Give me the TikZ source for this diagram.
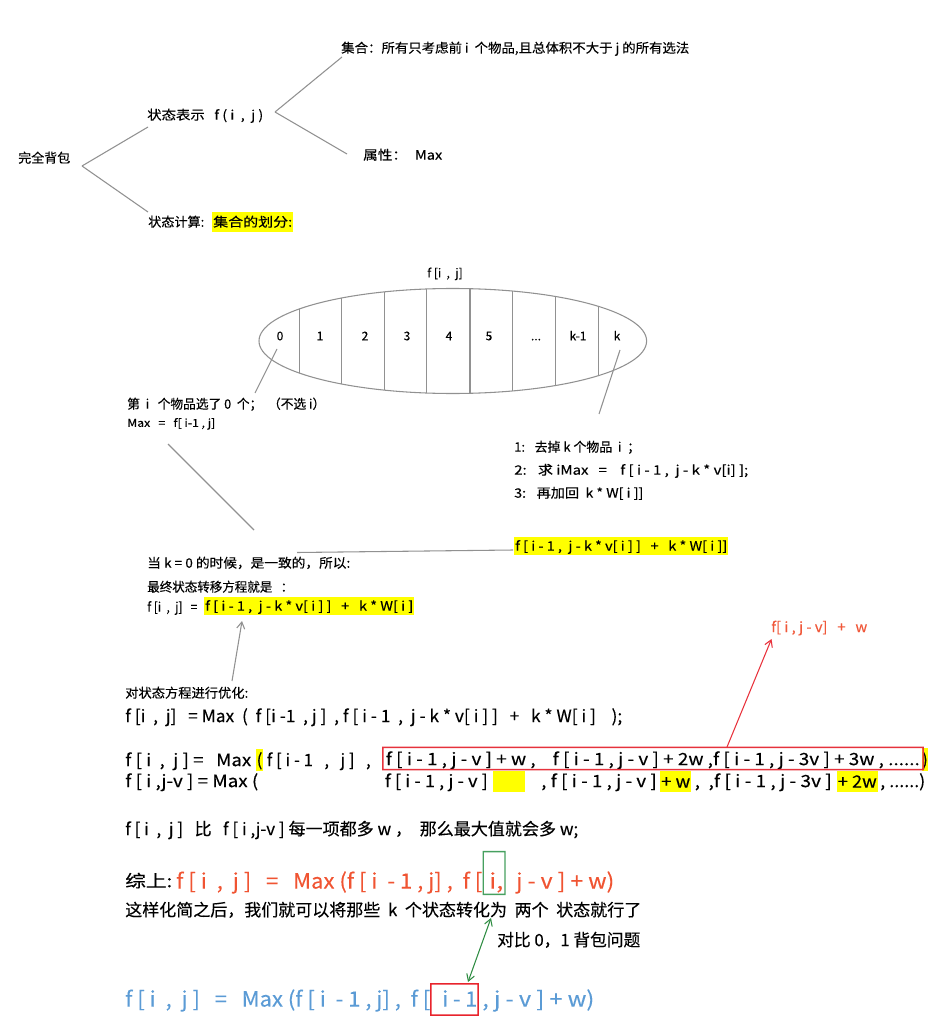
\documentclass[tikz,border=0pt]{standalone}
\usepackage{fontspec}
\setmainfont{Noto Sans CJK SC}[FakeBold=0.25]
\usepackage{graphicx}
\usetikzlibrary{shapes.geometric,arrows.meta}
\newlength\px
\setlength\px{0.75pt}
\newcommand\fw[2]{\resizebox{#1\px}{\height}{#2}}
\definecolor{hlyellow}{RGB}{255,255,0}
\definecolor{linegray}{RGB}{145,145,145}
\definecolor{topred}{RGB}{240,88,58}
\definecolor{arrred}{RGB}{232,50,60}
\definecolor{boxred}{RGB}{230,50,60}
\definecolor{sumred}{RGB}{240,84,50}
\definecolor{boxgreen}{RGB}{70,160,95}
\definecolor{arrgreen}{RGB}{46,140,66}
\definecolor{blueform}{RGB}{91,155,213}
\definecolor{boxredb}{RGB}{232,36,44}
\begin{document}
\begin{tikzpicture}[x=0.75pt,y=-0.75pt,
  lbl/.style={inner sep=0pt, anchor=west},
  f11/.style={font=\fontsize{8.25}{10}\selectfont, text height=7.1pt, text depth=1.16pt},
  f12/.style={font=\fontsize{9}{11}\selectfont, text height=7.74pt, text depth=1.26pt},
  f13/.style={font=\fontsize{9.75}{12}\selectfont, text height=8.4pt, text depth=1.37pt},
  f14/.style={font=\fontsize{10.5}{12}\selectfont, text height=9.03pt, text depth=1.47pt},
  f17/.style={font=\fontsize{12.75}{15}\selectfont, text height=10.97pt, text depth=1.79pt},
  f21/.style={font=\fontsize{15.75}{18}\selectfont, text height=13.5pt, text depth=2.2pt},
  conn/.style={draw=linegray, line width=0.8pt},
  arrowend/.style={-{Straight Barb[length=5pt,width=6pt]}},
  cell/.style={f12, inner sep=0pt},
  frame/.style={inner sep=0pt}
]
\useasboundingbox (0,0) rectangle (943,1030);

% ---------------- tree ----------------
\node[lbl,f13] (root) at (18,158) {\fw{52}{完全背包}};
\node[lbl,f13] (repr) at (147,115) {\fw{116}{状态表示~~ f ( i~ ,~ j )}};
\node[lbl,f13] (setdef) at (341,48) {\fw{348}{集合：所有只考虑前 i~ 个物品,且总体积不大于 j 的所有选法}};
\node[lbl,f13] (attr) at (363,155) {\fw{79}{属性：\hspace{7\px}Max}};
\node[lbl,f13] (calc) at (148,222) {\fw{56}{状态计算:}};
\node[lbl,f13,fill=hlyellow,inner xsep=1\px,minimum height=20.5\px] (part) at (212,222) {\fw{79}{集合的划分:}};

\coordinate (r0) at (82,166);
\coordinate (r1) at (148,127);
\coordinate (r2) at (148,212);
\coordinate (s0) at (275,112);
\coordinate (s1) at (342,57);
\coordinate (s2) at (347,154);
\draw[conn] (r0) -- (r1);
\draw[conn] (r0) -- (r2);
\draw[conn] (s0) -- (s1);
\draw[conn] (s0) -- (s2);

% ---------------- set ellipse ----------------
\node[cell] (fij) at (445,273) {f [i~ ,~ j]};
\node[draw=linegray, line width=0.8pt, ellipse, minimum width=387.6\px, minimum height=105\px, inner sep=0pt] (set) at (452.8,341) {};
\begin{scope}
\clip (452.8,341) ellipse [x radius=193.8, y radius=52.5];
\foreach \xx in {299.3,341.7,384.3,426.7,470,512.7,555.7,598.3}
  \draw[conn] (\xx,280) -- (\xx,400);
\end{scope}
\node[cell] (c0) at (280,336) {0};
\node[cell] (c1) at (320,336) {1};
\node[cell] (c2) at (365,336) {2};
\node[cell] (c3) at (407,336) {3};
\node[cell] (c4) at (449,336) {4};
\node[cell] (c5) at (489,336) {5};
\node[cell] (cd) at (536,336) {...};
\node[cell] (ck1) at (578,336) {k-1};
\node[cell] (ck) at (617,336) {k};

\coordinate (a0) at (277,349);
\coordinate (a1) at (255,393);
\coordinate (k0) at (620,350);
\coordinate (k1) at (599,414);
\draw[conn] (a0) -- (a1);
\draw[conn] (k0) -- (k1);

% ---------------- left / right explanations ----------------
\node[lbl,f13] (choice0) at (127,404) {\fw{198}{第~ i~~ 个物品选了 0~ 个；~ （不选 i）}};
\node[lbl,f11] (max0) at (127,423) {\fw{88}{Max~~ =~~ f[ i-1 , j]}};

\node[lbl,f13] (st1) at (514,447) {\fw{126}{1:~~ 去掉 k 个物品~ i~ ；}};
\node[lbl,f13] (st2) at (514,470) {\fw{234}{2:~~ 求 iMax~~ =~~~ f [ i - 1 ,~ j - k * v[i] ];}};
\node[lbl,f13] (st3) at (514,493) {\fw{129}{3:~~ 再加回~ k * W[ i ]]}};

\node[lbl,f13,fill=hlyellow,inner xsep=1\px,minimum height=18\px] (res) at (514,546) {\fw{212}{f [ i - 1 ,~ j - k * v[ i ] ]~~ +~~ k * W[ i ]]}};

\coordinate (m0) at (168,444);
\coordinate (m1) at (254,530);
\draw[conn] (m0) -- (m1);
\coordinate (e0) at (297,552.5);
\coordinate (e1) at (513,550);
\draw[conn] (e0) -- (e1);

\node[lbl,f13] (kzero) at (147,563) {\fw{203}{当 k = 0 的时候，是一致的，所以:}};
\node[lbl,f13] (final) at (147,587) {\fw{146}{最终状态转移方程就是~~ ：}};
\node[lbl,f13] (feq) at (147,607) {\fw{50}{f [i~ ,~ j]~~ =}};
\node[lbl,f13,fill=hlyellow,inner xsep=1\px,minimum height=18.5\px] (frhs) at (204,606) {\fw{208}{f [ i - 1 ,~ j - k * v[ i ] ]~~ +~~ k * W[ i ]}\hspace{7\px}};

\coordinate (g0) at (232,681);
\coordinate (g1) at (242,621);
\draw[conn,arrowend] (g0) -- (g1);

% ---------------- optimisation ----------------
\node[lbl,f13] (opt) at (125,693) {\fw{123}{对状态方程进行优化:}};
\node[lbl,f17] (eq1) at (125,716) {\fw{497}{f [i~ ,~ j]~~ = Max~ (~ f [i -1~ , j ]~ , f [ i - 1~ ,~ j - k * v[ i ] ]~~ +~~ k * W[ i ]~~~ );}};

\node[lbl,f17] (eq2a) at (125,760) {\fw{126}{f [ i~ ,~ j ] =~~ Max}};
\node[f17,fill=hlyellow,inner sep=0pt,minimum width=6.5\px,minimum height=22\px] (eq2p) at (259.5,760) {(};
\node[lbl,f17] (eq2b) at (266.5,760) {\fw{104}{f [ i - 1~~ ,~~ j ]~~ ,}};
\node[f17,fill=hlyellow,inner sep=0pt,minimum width=6.5\px,minimum height=23\px] (eq2q) at (925,759.5) {)};
\node[lbl,f17] (eq2c) at (385.5,759) {\fw{534}{f [ i - 1 , j - v ] + w ,~~~ f [ i - 1 , j - v ] + 2w ,f [ i - 1 , j - 3v ] + 3w , ......}};
\node[frame,minimum width=541\px,minimum height=23\px] (redbox) at (653,758.5) {};
\fill[boxred,even odd rule] (redbox.south west) rectangle (redbox.north east)
  ([shift={(1.4,-1.4)}]redbox.south west) rectangle ([shift={(-1.4,1.4)}]redbox.north east);

\node[lbl,f17] (eq3a) at (125,781) {\fw{133}{f [ i ,j-v ] = Max (}};
\node[lbl,f17] (eq3b) at (384.6,781) {\fw{103}{f [ i - 1 , j - v ]}};
\node[fill=hlyellow,inner sep=0pt,minimum width=32\px,minimum height=21\px] (blank1) at (509,781.5) {};
\node[lbl,f17] (eq3c) at (541,781) {\fw{115.5}{, f [ i - 1 , j - v ]}};
\node[lbl,f17,fill=hlyellow,inner xsep=1\px,minimum height=21\px] (plw) at (660,781.5) {\fw{29}{+ w}};
\node[lbl,f17] (eq3d) at (694.5,781) {\fw{137}{,~ ,f [ i - 1 , j - 3v ]}};
\node[lbl,f17,fill=hlyellow,inner xsep=1\px,minimum height=21\px] (pltw) at (836.5,781.5) {\fw{39}{+ 2w}};
\node[lbl,f17] (eq3e) at (880,781) {\fw{45}{, ......)}};

\node[lbl,f14,text=topred] (fv) at (771,627) {\fw{96}{f[ i , j - v]~~ +~~ w}};
\coordinate (ra0) at (727,747);
\coordinate (ra1) at (771.5,639);
\draw[draw=arrred,line width=0.8pt,arrowend] (ra0) -- (ra1);

% ---------------- conclusion ----------------
\node[lbl,f17] (more) at (125,829) {\fw{453}{f [ i~ ,~ j ]~~ 比~~ f [ i ,j-v ] 每一项都多 w ，~ 那么最大值就会多 w;}};

\node[lbl,f17] (sum) at (125,881) {\fw{47}{综上:}};
\node[lbl,f21,text=sumred] (sumA) at (176,881) {\fw{306}{f [ i~ ,~ j ]~~ =~~ Max (f [ i~ - 1 , j] ,~ f [}};
\node[lbl,f21,text=sumred] (sumB) at (489,881) {\fw{14}{i,}};
\node[lbl,f21,text=sumred] (sumC) at (516,881) {\fw{98}{j - v ] + w)}};
\node[frame,minimum width=22.5\px,minimum height=43.5\px] (gbox) at (494.2,873) {};
\fill[boxgreen,even odd rule] (gbox.south west) rectangle (gbox.north east)
  ([shift={(1.3,-1.3)}]gbox.south west) rectangle ([shift={(-1.3,1.3)}]gbox.north east);

\node[lbl,f17] (simp) at (125,910) {\fw{516}{这样化简之后，我们就可以将那些~ k~ 个状态转化为~ 两个~ 状态就行了}};
\node[lbl,f17] (cmp) at (497,940) {\fw{143}{对比 0，1 背包问题}};

\node[lbl,f21,text=blueform] (bA) at (125,999) {\fw{305}{f [ i~ ,~ j ]~~ =~~ Max (f [ i~ - 1 , j] ,~ f [}};
\node[lbl,f21,text=blueform] (bB) at (442,999) {\fw{35}{i - 1}};
\node[lbl,f21,text=blueform] (bC) at (482,999) {\fw{112}{, j - v ] + w)}};
\node[frame,minimum width=48\px,minimum height=32\px] (rbox) at (454.5,999.5) {};
\fill[boxredb,even odd rule] (rbox.south west) rectangle (rbox.north east)
  ([shift={(1.4,-1.4)}]rbox.south west) rectangle ([shift={(-1.4,1.4)}]rbox.north east);

\coordinate (ga0) at (491,918);
\coordinate (ga1) at (468,982);
\draw[draw=arrgreen,line width=0.8pt,{Straight Barb[length=5pt,width=6pt]}-{Straight Barb[length=5pt,width=6pt]}] (ga0) -- (ga1);
\end{tikzpicture}
\end{document}
